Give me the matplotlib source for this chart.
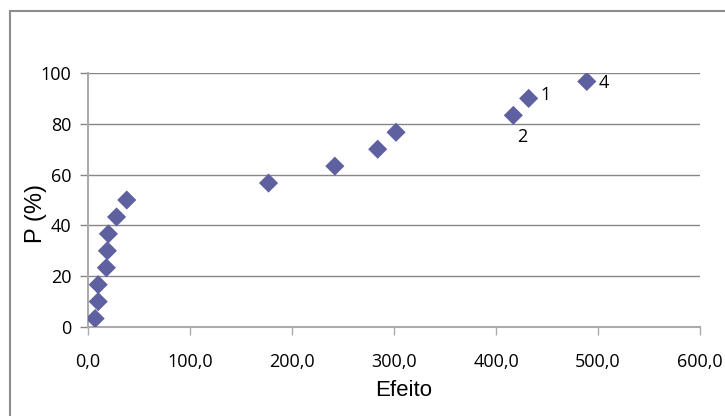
import matplotlib.pyplot as plt
from matplotlib.patches import Rectangle
from matplotlib.ticker import FuncFormatter

efeito = [7, 10, 10, 18, 19, 20, 28, 38, 177, 242, 284, 302, 417, 432, 489]
p_pct = [3.33, 10.0, 16.67, 23.33, 30.0, 36.67, 43.33, 50.0,
         56.67, 63.33, 70.0, 76.67, 83.33, 90.0, 96.67]

# rótulos de alguns pontos: (índice, texto, deslocamento em px)
rotulos = [(13, "1", (12, 3)), (12, "2", (4, -22)), (14, "4", (12, -2))]

FONTE_TICK = ["Liberation Sans Narrow", "Open Sans", "DejaVu Sans"]

fig = plt.figure(figsize=(7.25, 4.16), dpi=100)
ax = fig.add_axes([88/725, 89/416, 612/725, 254/416])

# moldura externa
fig.patches.append(Rectangle((10/725, -0.1), 1.2, 1.1 - 11/416,
                             transform=fig.transFigure, fill=False,
                             edgecolor="#8c8c8c", linewidth=1.5))

ax.scatter(efeito, p_pct, marker="D", s=95, color="#5f60a0",
           edgecolors="none", zorder=3)

for i, txt, (dx, dy) in rotulos:
    ax.annotate(txt, (efeito[i], p_pct[i]), xytext=(dx, dy),
                textcoords="offset pixels", fontsize=13,
                family=FONTE_TICK, va="center", ha="left")

ax.set_xlim(0, 600)
ax.set_ylim(0, 100)
ax.set_xticks(range(0, 601, 100))
ax.set_yticks(range(0, 101, 20))
ax.xaxis.set_major_formatter(FuncFormatter(lambda v, _: f"{v:.1f}".replace(".", ",")))

ax.grid(axis="y", color="#878787", linewidth=1)
ax.set_axisbelow(True)
for s in ["top", "right"]:
    ax.spines[s].set_visible(False)
for s in ["left", "bottom"]:
    ax.spines[s].set_color("#ababab")
    ax.spines[s].set_linewidth(1.5)

ax.tick_params(axis="x", length=6, color="#ababab", width=1, pad=13,
               labelsize=13)
ax.tick_params(axis="y", length=6, color="#878787", width=1, pad=6,
               labelsize=13)
for lab in ax.get_xticklabels() + ax.get_yticklabels():
    lab.set_family(FONTE_TICK)

fig.text(404/725, 1 - 391/416, "Efeito", ha="center", va="center",
         fontsize=16, family="Liberation Sans")
fig.text(36/725, 1 - 214/416, "P (%)", ha="center", va="center",
         fontsize=17, family="Liberation Sans", rotation=90)

fig.savefig("out.png", dpi=100)
